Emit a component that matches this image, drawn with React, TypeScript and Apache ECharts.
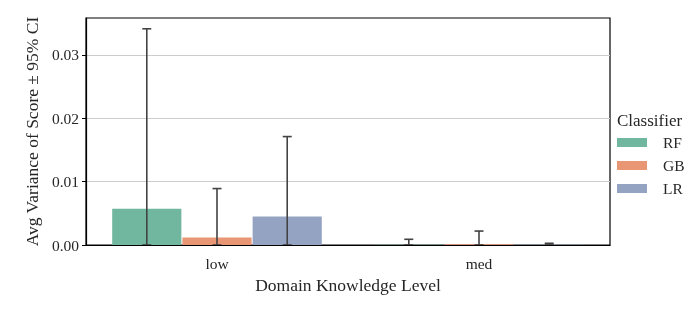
import React, { useEffect, useRef } from "react";
import * as echarts from "echarts";

const categories = ["low", "med"];
const classifiers = ["RF", "GB", "LR"];
const colors = ["#71b7a0", "#e99675", "#95a3c3"];
const meanRF = [0.0057, 0.00005];
const meanGB = [0.0012, 0.0001];
const meanLR = [0.0045, 0.00005];
const ciLowRF = [0.0, 0.0];
const ciLowGB = [0.0, 0.0];
const ciLowLR = [0.0, 0.0];
const ciHighRF = [0.0341, 0.0009];
const ciHighGB = [0.0089, 0.0022];
const ciHighLR = [0.0171, 0.00027];
const yTicks = [0, 0.01, 0.02, 0.03];

const FONT = "Liberation Serif";
const TXT = "#262626";
const GAP = 0.015;

export default function App() {
  const ref = useRef<HTMLDivElement>(null);
  useEffect(() => {
    const chart = echarts.init(ref.current!, null, { renderer: "svg" });
    const means = [meanRF, meanGB, meanLR];
    const lows = [ciLowRF, ciLowGB, ciLowLR];
    const highs = [ciHighRF, ciHighGB, ciHighLR];
    const barSeries = classifiers.map((name, i) => ({
      name,
      type: "bar",
      data: means[i],
      barGap: GAP * 100 + "%",
      barCategoryGap: "20%",
      itemStyle: { color: colors[i] },
      z: 2,
    }));
    const errSeries = classifiers.map((name, i) => ({
      name: name + "_err",
      type: "custom",
      clip: true,
      z: 5,
      data: categories.map((c, j) => [j, lows[i][j], highs[i][j]]),
      renderItem: (params: any, api: any) => {
        const cat = api.value(0);
        const band = api.size([1, 0])[0];
        const bw = (band * 0.8) / (3 + 2 * GAP);
        const p0 = api.coord([cat, api.value(1)]);
        const p1 = api.coord([cat, api.value(2)]);
        const x = p0[0] + (i - 1) * bw * (1 + GAP);
        const cap = 4.5;
        const style = { stroke: "#424242", lineWidth: 1.6 };
        return {
          type: "group",
          children: [
            { type: "line", shape: { x1: x, y1: p0[1], x2: x, y2: p1[1] }, style },
            { type: "line", shape: { x1: x - cap, y1: p1[1], x2: x + cap, y2: p1[1] }, style },
            { type: "line", shape: { x1: x - cap, y1: p0[1], x2: x + cap, y2: p0[1] }, style },
          ],
        };
      },
    }));
    chart.setOption({
      animation: false,
      textStyle: { fontFamily: FONT },
      grid: {
        left: 86,
        right: 88,
        top: 18,
        bottom: 64,
        show: true,
        borderColor: "#000000",
        borderWidth: 1.2,
        containLabel: false,
      },
      legend: {
        data: classifiers,
        orient: "vertical",
        left: 617,
        top: 134.5,
        padding: 0,
        itemWidth: 30,
        itemHeight: 9,
        itemGap: 7,
        icon: "rect",
        textStyle: {
          fontFamily: FONT,
          fontSize: 15.5,
          lineHeight: 15,
          color: TXT,
          padding: [0, 0, 0, 11],
        },
      },
      graphic: [
        {
          type: "text",
          x: 617,
          y: 120,
          style: {
            text: "Classifier",
            fontFamily: FONT,
            fontSize: 17,
            fill: TXT,
            verticalAlign: "middle",
          },
        },
      ],
      xAxis: {
        type: "category",
        data: categories,
        z: 10,
        name: "Domain Knowledge Level",
        nameLocation: "middle",
        nameGap: 31,
        nameTextStyle: { fontFamily: FONT, fontSize: 17.5, color: TXT },
        axisLine: { lineStyle: { color: "#000", width: 1.2 } },
        axisTick: { alignWithLabel: true, length: 4, lineStyle: { color: "#000" } },
        axisLabel: { fontFamily: FONT, fontSize: 15.5, color: TXT, margin: 10 },
      },
      yAxis: {
        type: "value",
        min: 0,
        max: 0.0358,
        name: "Avg Variance of Score ± 95% CI",
        nameLocation: "middle",
        nameGap: 42,
        nameTextStyle: { fontFamily: FONT, fontSize: 17.5, color: TXT },
        axisLine: { show: true, lineStyle: { color: "#000", width: 1.2 } },
        axisTick: { show: true, length: 4, customValues: yTicks, lineStyle: { color: "#000" } },
        axisLabel: {
          fontFamily: FONT,
          fontSize: 15.5,
          color: TXT,
          margin: 7,
          customValues: yTicks,
          formatter: (v: number) => v.toFixed(2),
        },
        splitLine: { show: true, lineStyle: { color: "#cccccc", width: 1 } },
      },
      series: [...barSeries, ...errSeries],
    });
    return () => chart.dispose();
  }, []);
  return (
    <div
      ref={ref}
      style={{ position: "fixed", left: 0, top: 0, width: 698, height: 309 }}
    />
  );
}
